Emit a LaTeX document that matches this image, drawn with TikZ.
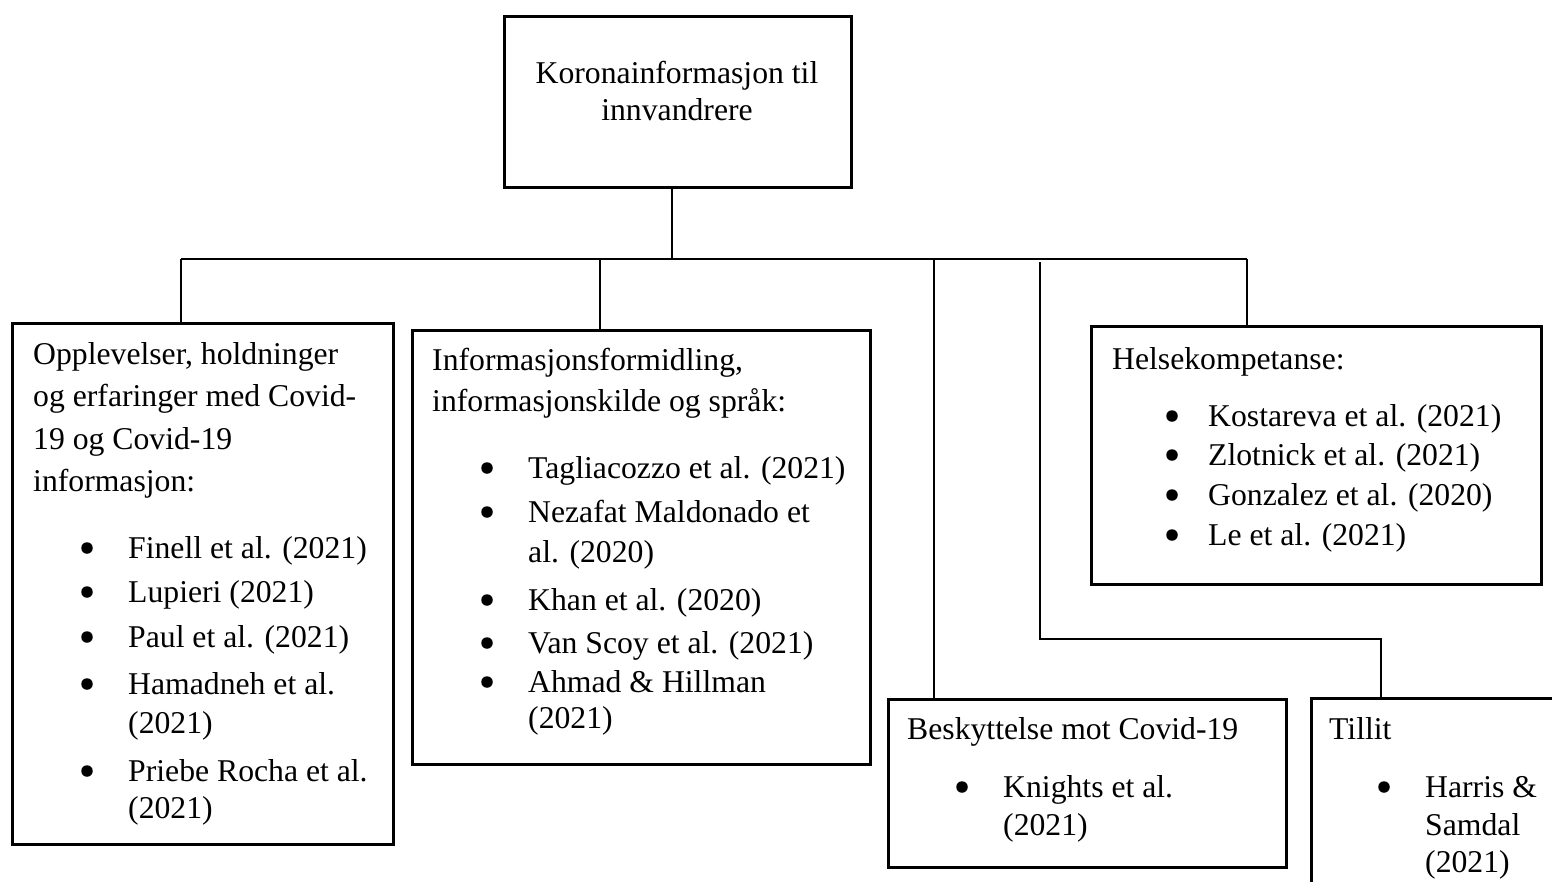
\documentclass[tikz,border=0pt]{standalone}
\usepackage{fontspec}
\setmainfont{Liberation Serif}
\newcommand\txtline[4]{\node[txt] (#1) at (#2,#3) {#4};}
\newcommand\bulletdot[3]{\node[dot] (#1) at (#2,#3-10) {};}
\begin{document}
\begin{tikzpicture}[x=1pt,y=-1pt,
 box/.style={draw, line width=2.5pt, inner sep=0, anchor=north west},
 conn/.style={line width=1.2pt},
 txt/.style={anchor=base west, inner sep=0, font=\fontsize{31.7}{38}\selectfont},
 ctxt/.style={anchor=base, inner sep=0, font=\fontsize{31.7}{38}\selectfont},
 dot/.style={circle, fill=black, inner sep=0, minimum size=11.5pt}]
\useasboundingbox (0,0) rectangle (1552,881);
% boxes
\node[box, minimum width=347pt, minimum height=171pt] (top) at (503,15) {};
\node[box, minimum width=381pt, minimum height=521pt] (left) at (11,322) {};
\node[box, minimum width=458pt, minimum height=434pt] (mid) at (411,329) {};
\node[box, minimum width=450pt, minimum height=258pt] (helse) at (1090,325) {};
\node[box, minimum width=398pt, minimum height=168pt] (besk) at (887,698) {};
\node[box, minimum width=260pt, minimum height=200pt] (tillit) at (1310,697) {};
% top text
\node[ctxt] (k1) at (677,83) {Koronainformasjon til};
\node[ctxt] (k2) at (677,120) {innvandrere};
% connectors
\coordinate (j) at (672,259);
\coordinate (hl) at (181,259);
\coordinate (hr) at (1247,259);
\coordinate (hm) at (600,259);
\coordinate (hb) at (934,259);
\coordinate (ht) at (1040,262);
\coordinate (tk1) at (1040,639);
\coordinate (tk2) at (1381,639);
\draw[conn] (j |- top.south) -- (j);
\draw[conn] (hl) -- (hr);
\draw[conn] (hl) -- (hl |- left.north);
\draw[conn] (hm) -- (hm |- mid.north);
\draw[conn] (hb) -- (hb |- besk.north);
\draw[conn] (hr) -- (hr |- helse.north);
\draw[conn] (ht) -- (tk1) -- (tk2) -- (tk2 |- tillit.north);
% left box
\txtline{a1}{33}{364}{Opplevelser, holdninger}
\txtline{a2}{33}{406}{og erfaringer med Covid-}
\txtline{a3}{33}{449}{19 og Covid-19}
\txtline{a4}{33}{491}{informasjon:}
\bulletdot{ab1}{87}{558}
\txtline{a5}{128}{558}{Finell et al. (2021)}
\bulletdot{ab2}{87}{602}
\txtline{a6}{128}{602}{Lupieri (2021)}
\bulletdot{ab3}{87}{647}
\txtline{a7}{128}{647}{Paul et al. (2021)}
\bulletdot{ab4}{87}{694}
\txtline{a8}{128}{694}{Hamadneh et al.}
\txtline{a9}{128}{733}{(2021)}
\bulletdot{ab5}{87}{781}
\txtline{a10}{128}{781}{Priebe Rocha et al.}
\txtline{a11}{128}{818}{(2021)}
% middle box
\txtline{b1}{432}{370}{Informasjonsformidling,}
\txtline{b2}{432}{411}{informasjonskilde og språk:}
\bulletdot{bb1}{487}{478}
\txtline{b3}{528}{478}{Tagliacozzo et al. (2021)}
\bulletdot{bb2}{487}{522}
\txtline{b4}{528}{522}{Nezafat Maldonado et}
\txtline{b5}{528}{562}{al. (2020)}
\bulletdot{bb3}{487}{610}
\txtline{b6}{528}{610}{Khan et al. (2020)}
\bulletdot{bb4}{487}{653}
\txtline{b7}{528}{653}{Van Scoy et al. (2021)}
\bulletdot{bb5}{487}{692}
\txtline{b8}{528}{692}{Ahmad \& Hillman}
\txtline{b9}{528}{728}{(2021)}
% helse box
\txtline{c1}{1112}{369}{Helsekompetanse:}
\bulletdot{cb1}{1172}{426}
\txtline{c2}{1208}{426}{Kostareva et al. (2021)}
\bulletdot{cb2}{1172}{465}
\txtline{c3}{1208}{465}{Zlotnick et al. (2021)}
\bulletdot{cb3}{1172}{505}
\txtline{c4}{1208}{505}{Gonzalez et al. (2020)}
\bulletdot{cb4}{1172}{545}
\txtline{c5}{1208}{545}{Le et al. (2021)}
% beskyttelse box
\txtline{d1}{907}{739}{Beskyttelse mot Covid-19}
\bulletdot{db1}{962}{797}
\txtline{d2}{1003}{797}{Knights et al.}
\txtline{d3}{1003}{835}{(2021)}
% tillit box
\txtline{e1}{1329}{739}{Tillit}
\bulletdot{eb1}{1384}{797}
\txtline{e2}{1425}{797}{Harris \&}
\txtline{e3}{1425}{835}{Samdal}
\txtline{e4}{1425}{872}{(2021)}
\end{tikzpicture}
\end{document}
